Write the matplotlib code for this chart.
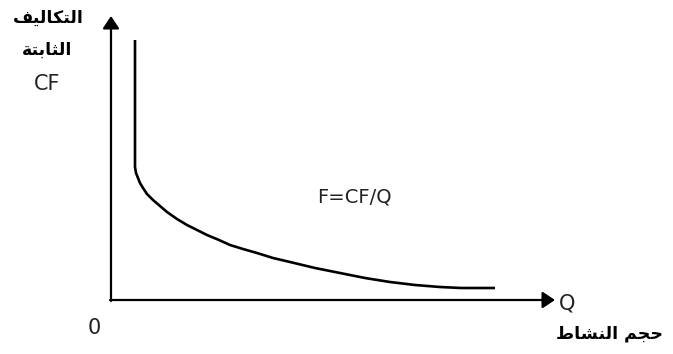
import numpy as np
import matplotlib
matplotlib.use("Agg")
import matplotlib.pyplot as plt

# curve F = CF/Q (activity volume vs fixed cost per unit)
q_vals = [24, 24, 25, 27, 29, 32, 36, 42, 49, 56, 66, 76, 86, 96, 108, 119, 132, 146,
          162, 179, 204, 229, 254, 279, 304, 329, 350, 362, 384]
f_vals = [260, 133, 127, 122, 117, 112, 106, 100, 94, 88, 81, 75, 70, 65, 60, 55, 51, 47,
          42, 38, 32, 27, 22, 18, 15, 13, 12, 12, 12]

# labels (Arabic written in presentation forms, visual order, since matplotlib does no shaping)
y_label_1 = "\uFED2\uFEF4\uFEDF\uFE8E\uFEDC\uFE98\uFEDF\uFE8D"   # التكاليف
y_label_2 = "\uFE94\uFE98\uFE91\uFE8E\uFE9C\uFEDF\uFE8D"          # الثابتة
x_label = "\uFEC1\uFE8E\uFEB8\uFEE8\uFEDF\uFE8D \uFEE2\uFEA0\uFEA3"  # حجم النشاط
formula = "F=CF/Q"

fig = plt.figure(figsize=(6.73, 3.54), dpi=100)
ax = fig.add_axes([0, 0, 1, 1])
ax.set_xlim(-111, 562)
ax.set_ylim(-54, 300)
ax.axis("off")

# axes with arrow heads
arrow = dict(arrowstyle="-|>,head_length=0.75,head_width=0.5",
             color="black", lw=1.6, shrinkA=0, shrinkB=0)
ax.annotate("", xy=(0, 284), xytext=(0, -1), arrowprops=arrow)
ax.annotate("", xy=(444, 0), xytext=(-1, 0), arrowprops=arrow)

ax.plot(q_vals, f_vals, color="black", lw=1.9, solid_capstyle="butt",
        solid_joinstyle="round")

ax.text(-63, 282, y_label_1, ha="center", va="center", fontsize=12.5,
        fontweight="bold", family="DejaVu Sans")
ax.text(-64, 250, y_label_2, ha="center", va="center", fontsize=12.5,
        fontweight="bold", family="DejaVu Sans")
ax.text(-64, 216, "CF", ha="center", va="center", fontsize=15, color="#222222")
ax.text(243, 103, formula, ha="center", va="center", fontsize=14, color="#222222")
ax.text(456, -4, "Q", ha="center", va="center", fontsize=15, color="#222222")
ax.text(-17, -28, "0", ha="center", va="center", fontsize=15, color="#222222")
ax.text(499, -33, x_label, ha="center", va="center", fontsize=12.5,
        fontweight="bold", family="DejaVu Sans")

fig.savefig("out.png", dpi=100)
